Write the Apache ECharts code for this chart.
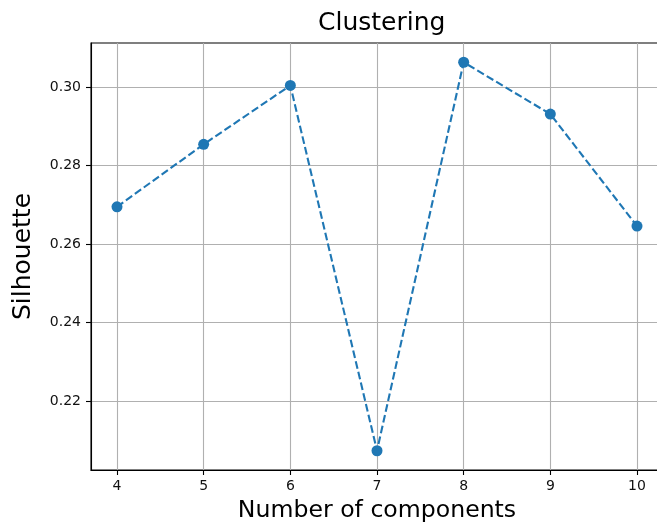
<!DOCTYPE html>
<html>
<head>
<meta charset="utf-8">
<script src="https://cdn.jsdelivr.net/npm/echarts@6/dist/echarts.min.js"></script>
<style>html,body{margin:0;padding:0;background:#fff;overflow:hidden;}#c{width:657px;height:525px;}</style>
</head>
<body>
<div id="c"></div>
<script>
const components = [4, 5, 6, 7, 8, 9, 10];
const silhouette = [0.2695, 0.2854, 0.3004, 0.2074, 0.3063, 0.2931, 0.2646];
const xTicks = [4, 5, 6, 7, 8, 9, 10];
const yTicks = [0.22, 0.24, 0.26, 0.28, 0.30];

const chart = echarts.init(document.getElementById('c'), null, {renderer: 'canvas'});
const font = 'DejaVu Sans';
chart.setOption({
  animation: false,
  backgroundColor: '#fff',
  title: {
    text: 'Clustering', left: 313, top: 6,
    textStyle: {fontFamily: font, fontSize: 25, fontWeight: 'normal', color: '#000'}
  },
  grid: {left: 91, top: 43, width: 572, height: 427, show: true, borderColor: '#000', borderWidth: 1.1, containLabel: false, outerBoundsMode: 'none'},
  xAxis: {
    type: 'value', min: 3.7, max: 10.3,
    name: 'Number of components', nameLocation: 'middle', nameGap: 29,
    nameTextStyle: {fontFamily: font, fontSize: 23.6, color: '#000'},
    axisLine: {show: true, onZero: false, lineStyle: {color: '#000', width: 1.1}},
    axisTick: {show: true, length: 5, customValues: xTicks, lineStyle: {color: '#000', width: 1.1}},
    axisLabel: {customValues: xTicks, margin: 9, fontFamily: font, fontSize: 14, color: '#111', formatter: v => String(v)},
    splitLine: {show: true, lineStyle: {color: '#b0b0b0', width: 1.1}}
  },
  yAxis: {
    type: 'value', min: 0.2025, max: 0.3112,
    name: 'Silhouette', nameLocation: 'middle', nameGap: 55,
    nameTextStyle: {fontFamily: font, fontSize: 25, color: '#000'},
    axisLine: {show: true, onZero: false, lineStyle: {color: '#000', width: 1.1}},
    axisTick: {show: true, length: 5, customValues: yTicks, lineStyle: {color: '#000', width: 1.1}},
    axisLabel: {customValues: yTicks, margin: 10, fontFamily: font, fontSize: 14, color: '#111', formatter: v => v.toFixed(2)},
    splitLine: {show: true, lineStyle: {color: '#b0b0b0', width: 1.1}}
  },
  series: [{
    type: 'line',
    data: components.map((c, i) => [c, silhouette[i]]),
    symbol: 'circle', symbolSize: 11,
    itemStyle: {color: '#1f77b4'},
    lineStyle: {color: '#1f77b4', width: 2.1, type: [7.7, 3.3]},
    z: 5
  }]
});
</script>
</body>
</html>
